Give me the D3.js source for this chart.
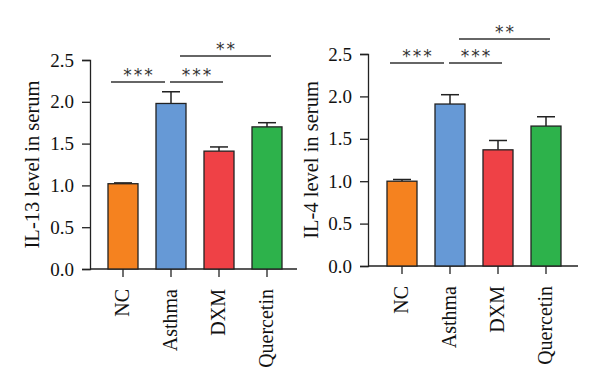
<!DOCTYPE html>
<html lang="en">
<head>
<meta charset="utf-8"/>
<title>IL-13 / IL-4 in serum</title>
<style>
  * { margin: 0; padding: 0; }
  body { background: #fff; }
  svg { display: block; }
  text { font-family: "Liberation Serif", serif; fill: #111; }
  .tick text { font-size: 19px; font-family: "Liberation Serif", serif; }
  text.ytitle { font-size: 20.5px; }
  text.cat { font-size: 20px; }
  text.stars { font-family: "DejaVu Sans", sans-serif; font-size: 17px; fill: #333; }
</style>
<script src="https://d3js.org/d3.v7.min.js"></script>
</head>
<body>
<svg width="600" height="388"></svg>
<script>
// groups
const categories = ["NC", "Asthma", "DXM", "Quercetin"];
const barColors = ["#F5821F", "#6699D6", "#EF4146", "#2DB24B"];
const yTicks = [0, 0.5, 1.0, 1.5, 2.0, 2.5];

// IL-13 (left panel)
const il13Mean = [1.02, 1.98, 1.41, 1.70];
const il13Err  = [0.01, 0.14, 0.05, 0.05];

// IL-4 (right panel)
const il4Mean = [1.00, 1.91, 1.37, 1.65];
const il4Err  = [0.02, 0.11, 0.11, 0.11];

// significance brackets: [from group, to group, label, level]
const il13Sig = [[0, 1, "***", 0], [1, 2, "***", 0], [1, 3, "**", 1]];
const il4Sig  = [[0, 1, "***", 0], [1, 2, "***", 0], [1, 3, "**", 1]];

const svg = d3.select("svg");

function drawPanel(p) {
  const g = svg.append("g");

  const x = d3.scaleBand()
    .domain(categories)
    .range([p.x0, p.x1])
    .paddingInner(0.375)
    .paddingOuter(0.1875);

  const y = d3.scaleLinear()
    .domain([0, 2.5])
    .range([p.yBottom, p.yTop]);

  // y axis
  const yAxis = g.append("g")
    .attr("transform", `translate(${p.axisX},0)`)
    .call(d3.axisLeft(y).tickValues(yTicks).tickFormat(d3.format(".1f")).tickSize(8).tickPadding(8));
  yAxis.select(".domain").attr("stroke", "#222").attr("stroke-width", 1.3);
  yAxis.selectAll(".tick line").attr("stroke", "#222").attr("stroke-width", 1.3);
  yAxis.selectAll(".tick text").attr("fill", "#111");

  // x axis
  const xAxis = g.append("g")
    .attr("transform", `translate(0,${p.yBottom})`)
    .call(d3.axisBottom(x).tickSize(8).tickFormat(""));
  xAxis.select(".domain").remove();
  xAxis.selectAll(".tick line").attr("stroke", "#222").attr("stroke-width", 1.3);
  g.append("line")
    .attr("x1", p.axisX).attr("x2", p.axisEnd)
    .attr("y1", p.yBottom).attr("y2", p.yBottom)
    .attr("stroke", "#222").attr("stroke-width", 1.3);

  // category labels
  g.selectAll("text.cat")
    .data(categories)
    .join("text")
    .attr("class", "cat")
    .attr("text-anchor", "end")
    .attr("transform", d => `translate(${x(d) + x.bandwidth() / 2 + 6},${p.yBottom + 20}) rotate(-90)`)
    .text(d => d);

  // y title
  g.append("text")
    .attr("class", "ytitle")
    .attr("text-anchor", "middle")
    .attr("transform", `translate(${p.titleX},${(p.yTop + p.yBottom) / 2}) rotate(-90)`)
    .text(p.title);

  const rows = categories.map((c, i) => ({ c: c, m: p.mean[i], e: p.err[i], col: barColors[i] }));

  // error bars (upper half only)
  const eb = g.selectAll("g.err").data(rows).join("g").attr("class", "err");
  eb.append("line")
    .attr("x1", d => x(d.c) + x.bandwidth() / 2)
    .attr("x2", d => x(d.c) + x.bandwidth() / 2)
    .attr("y1", d => y(d.m))
    .attr("y2", d => y(d.m + d.e))
    .attr("stroke", "#222").attr("stroke-width", 1.5);
  eb.append("line")
    .attr("x1", d => x(d.c) + x.bandwidth() / 2 - 9)
    .attr("x2", d => x(d.c) + x.bandwidth() / 2 + 9)
    .attr("y1", d => y(d.m + d.e))
    .attr("y2", d => y(d.m + d.e))
    .attr("stroke", "#222").attr("stroke-width", 1.5);

  // bars
  g.selectAll("rect.bar")
    .data(rows)
    .join("rect")
    .attr("class", "bar")
    .attr("x", d => x(d.c))
    .attr("width", x.bandwidth())
    .attr("y", d => y(d.m))
    .attr("height", d => y(0) - y(d.m))
    .attr("fill", d => d.col)
    .attr("stroke", "#222")
    .attr("stroke-width", 1.3);

  // significance brackets
  p.sig.forEach(s => {
    const a = x(categories[s[0]]) + x.bandwidth() / 2;
    const b = x(categories[s[1]]) + x.bandwidth() / 2;
    const ly = p.sigY[s[3]];
    let x1, x2;
    if (s[3] === 1) { x1 = a + 9; x2 = b + 4; }
    else if (s[0] === 0) { x1 = a - 12; x2 = b - 6; }
    else { x1 = a - 1; x2 = b + 4; }
    g.append("line")
      .attr("x1", x1).attr("x2", x2)
      .attr("y1", ly).attr("y2", ly)
      .attr("stroke", "#333").attr("stroke-width", 1.3);
    g.append("text")
      .attr("class", "stars")
      .attr("text-anchor", "middle")
      .attr("x", (x1 + x2) / 2 + 1)
      .attr("y", ly - 1)
      .attr("letter-spacing", "2px")
      .text(s[2]);
  });
}

drawPanel({
  title: "IL-13 level in serum", mean: il13Mean, err: il13Err, sig: il13Sig,
  axisX: 90, axisEnd: 297, x0: 99, x1: 291, yBottom: 269, yTop: 60,
  titleX: 39, sigY: [82, 56]
});

drawPanel({
  title: "IL-4 level in serum", mean: il4Mean, err: il4Err, sig: il4Sig,
  axisX: 368, axisEnd: 578, x0: 378, x1: 570, yBottom: 266, yTop: 54,
  titleX: 318, sigY: [63, 39]
});
</script>
</body>
</html>
